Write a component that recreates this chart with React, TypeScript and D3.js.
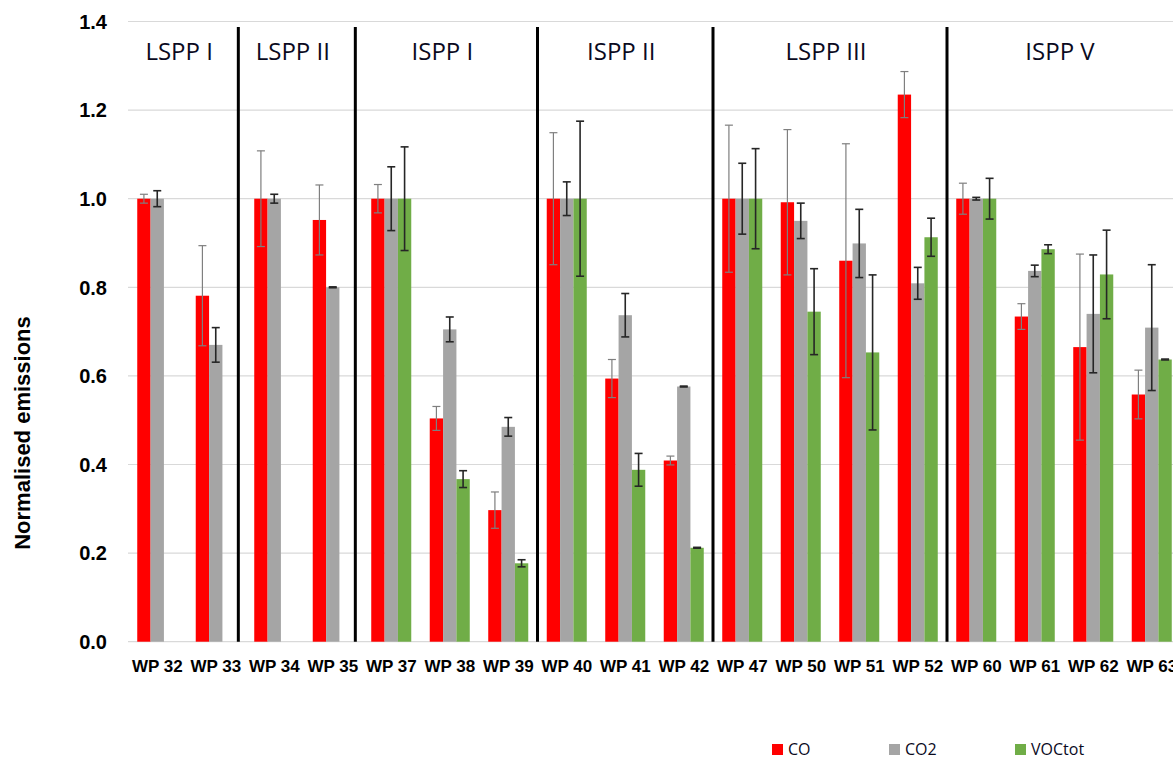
import React, { useEffect } from "react";
import * as d3 from "d3";

const categories = [
  "WP 32", "WP 33", "WP 34", "WP 35", "WP 37", "WP 38", "WP 39", "WP 40", "WP 41",
  "WP 42", "WP 47", "WP 50", "WP 51", "WP 52", "WP 60", "WP 61", "WP 62", "WP 63",
];
const coValues = [1.0, 0.781, 1.0, 0.952, 1.0, 0.504, 0.297, 1.0, 0.594, 0.409, 1.0, 0.992, 0.86, 1.235, 1.0, 0.734, 0.665, 0.558];
const coErrors = [0.01, 0.113, 0.108, 0.079, 0.032, 0.027, 0.041, 0.149, 0.043, 0.01, 0.166, 0.164, 0.264, 0.052, 0.035, 0.029, 0.21, 0.055];
const co2Values = [1.0, 0.67, 1.0, 0.8, 1.0, 0.705, 0.485, 1.0, 0.737, 0.576, 1.0, 0.95, 0.899, 0.809, 1.0, 0.837, 0.74, 0.709];
const co2Errors = [0.018, 0.039, 0.01, 0.001, 0.072, 0.028, 0.021, 0.038, 0.049, 0.001, 0.08, 0.04, 0.077, 0.036, 0.003, 0.013, 0.133, 0.142];
const vocValues: (number | null)[] = [null, null, null, null, 1.0, 0.367, 0.177, 1.0, 0.388, 0.212, 1.0, 0.745, 0.653, 0.913, 1.0, 0.886, 0.829, 0.637];
const vocErrors: (number | null)[] = [null, null, null, null, 0.117, 0.019, 0.008, 0.175, 0.037, 0.001, 0.113, 0.097, 0.175, 0.043, 0.046, 0.01, 0.1, 0.001];
const yTicks = [0, 0.2, 0.4, 0.6, 0.8, 1.0, 1.2, 1.4];
const seriesNames = ["CO", "CO2", "VOCtot"];
const groups = [
  { label: "LSPP I", first: "WP 32", last: "WP 33" },
  { label: "LSPP II", first: "WP 34", last: "WP 35" },
  { label: "ISPP I", first: "WP 37", last: "WP 39" },
  { label: "ISPP II", first: "WP 40", last: "WP 42" },
  { label: "LSPP III", first: "WP 47", last: "WP 52" },
  { label: "ISPP V", first: "WP 60", last: "WP 63" },
];

const W = 1173;
const H = 758;
const plotLeft = 128;
const plotRight = 1181;
const plotTop = 21.5;
const plotBottom = 641.7;
const colors: Record<string, string> = { CO: "#ff0000", CO2: "#a5a5a5", VOCtot: "#70ad47" };
const errColors: Record<string, string> = { CO: "#7f7f7f", CO2: "#262626", VOCtot: "#262626" };

export default function App() {
  useEffect(() => {
    document.body.style.margin = "0";
  }, []);

  const x0 = d3.scaleBand<string>().domain(categories).range([plotLeft, plotRight]).paddingInner(0).paddingOuter(0);
  const bw = x0.bandwidth();
  const x1 = d3.scaleBand<string>().domain(seriesNames).range([bw * 0.158, bw * 0.842]).padding(0);
  const y = d3.scaleLinear().domain([0, 1.4]).range([plotBottom, plotTop]);

  const seriesData = [
    { name: "CO", values: coValues as (number | null)[], errors: coErrors as (number | null)[] },
    { name: "CO2", values: co2Values as (number | null)[], errors: co2Errors as (number | null)[] },
    { name: "VOCtot", values: vocValues, errors: vocErrors },
  ];

  const visibleExtent = (i: number) => {
    const drawn = seriesData.filter((s) => s.values[i] != null).map((s) => s.name);
    const left = (x0(categories[i]) as number) + (x1(drawn[0]) as number);
    const right = (x0(categories[i]) as number) + (x1(drawn[drawn.length - 1]) as number) + x1.bandwidth();
    return [left, right];
  };

  const separators: number[] = [];
  for (let g = 0; g < groups.length - 1; g++) {
    const a = categories.indexOf(groups[g].last);
    const b = categories.indexOf(groups[g + 1].first);
    separators.push((visibleExtent(a)[1] + visibleExtent(b)[0]) / 2);
  }
  const bounds = [plotLeft, ...separators, plotRight];

  const capW = 8;

  return (
    <svg width={W} height={H} style={{ display: "block", position: "absolute", left: 0, top: 0, background: "#fff" }}>
      <rect x={0} y={0} width={W} height={H} fill="#fff" />
      {yTicks.map((t) => (
        <line key={"g" + t} x1={plotLeft} x2={plotRight} y1={y(t)} y2={y(t)} stroke="#d9d9d9" strokeWidth={1.2} />
      ))}
      {yTicks.map((t) => (
        <text
          key={"t" + t}
          x={107}
          y={y(t)}
          dy="0.36em"
          textAnchor="end"
          fontFamily="'Liberation Sans', Arial, sans-serif"
          fontWeight="bold"
          fontSize={20}
          fill="#000"
        >
          {d3.format(".1f")(t)}
        </text>
      ))}
      <text
        transform={`translate(30, 433) rotate(-90)`}
        textAnchor="middle"
        fontFamily="'Liberation Sans', Arial, sans-serif"
        fontWeight="bold"
        fontSize={22}
        fill="#000"
      >
        Normalised emissions
      </text>
      {seriesData.map((s) =>
        s.values.map((v, i) =>
          v == null ? null : (
            <rect
              key={s.name + i}
              x={(x0(categories[i]) as number) + (x1(s.name) as number)}
              y={y(v)}
              width={x1.bandwidth()}
              height={y(0) - y(v)}
              fill={colors[s.name]}
            />
          )
        )
      )}
      {seriesData.map((s) =>
        s.values.map((v, i) => {
          const e = s.errors[i];
          if (v == null || e == null) return null;
          const cx = (x0(categories[i]) as number) + (x1(s.name) as number) + x1.bandwidth() / 2;
          const sw = s.name === "CO" ? 1.2 : 1.6;
          return (
            <g key={"e" + s.name + i} stroke={errColors[s.name]} strokeWidth={sw}>
              <line x1={cx} x2={cx} y1={y(v + e)} y2={y(v - e)} />
              <line x1={cx - capW / 2} x2={cx + capW / 2} y1={y(v + e)} y2={y(v + e)} />
              <line x1={cx - capW / 2} x2={cx + capW / 2} y1={y(v - e)} y2={y(v - e)} />
            </g>
          );
        })
      )}
      {separators.map((sx, i) => (
        <line key={"s" + i} x1={sx} x2={sx} y1={27} y2={plotBottom} stroke="#000" strokeWidth={3} />
      ))}
      {groups.map((g, i) => (
        <text
          key={"gl" + i}
          x={(bounds[i] + bounds[i + 1]) / 2 - 4}
          y={60}
          textAnchor="middle"
          fontFamily="'Open Sans', sans-serif"
          fontSize={24}
          fill="#0a0a1e"
        >
          {g.label}
        </text>
      ))}
      {categories.map((c) => (
        <text
          key={"x" + c}
          x={(x0(c) as number) + bw / 2}
          y={672}
          textAnchor="middle"
          fontFamily="'Liberation Sans', Arial, sans-serif"
          fontWeight="bold"
          fontSize={17}
          fill="#000"
        >
          {c}
        </text>
      ))}
      {seriesNames.map((n, i) => {
        const lx = [772, 889, 1015][i];
        return (
          <g key={"l" + n}>
            <rect x={lx} y={744} width={11} height={11} fill={colors[n]} />
            <text x={lx + 16} y={754.5} fontFamily="'Open Sans', sans-serif" fontSize={16} fill="#0a0a1e">
              {n}
            </text>
          </g>
        );
      })}
    </svg>
  );
}
